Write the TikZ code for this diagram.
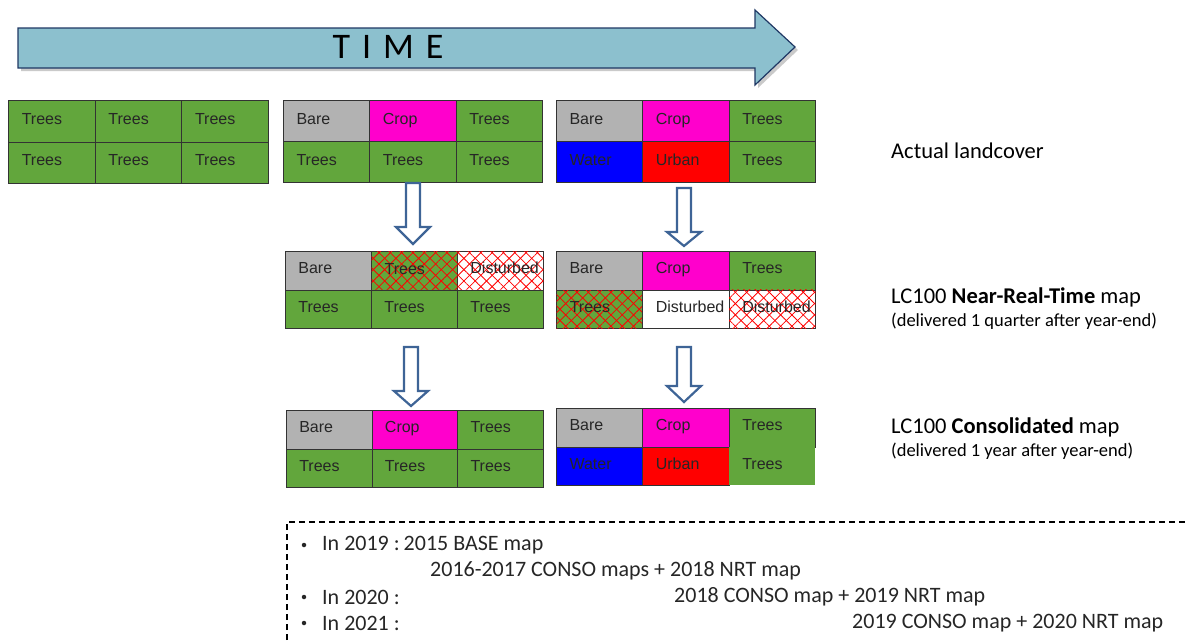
\documentclass[tikz,border=0pt]{standalone}
\usepackage{fontspec}
\setmainfont{Liberation Sans}
\newfontfamily\calfont{Carlito}
\usetikzlibrary{patterns.meta}
\definecolor{tgreen}{RGB}{98,166,60}
\definecolor{tgray}{RGB}{178,178,178}
\definecolor{tmag}{RGB}{255,0,204}
\definecolor{tblue}{RGB}{0,0,255}
\definecolor{tred}{RGB}{255,0,0}
\definecolor{arrfill}{RGB}{140,192,206}
\definecolor{arrline}{RGB}{31,56,100}
\definecolor{darrc}{RGB}{62,100,150}
\tikzset{
  cellbox/.style={draw=black!80, line width=0.8pt, anchor=north west, inner xsep=12pt, inner ysep=0pt,
    text width=60pt, text height=11.5pt, text depth=5pt, align=left, font=\fontsize{16}{18}\selectfont, text=black!85},
  hatchg/.style={fill=tgreen,
    postaction={pattern={Lines[angle=45,distance=8pt,line width=0.8pt]}, pattern color=red},
    postaction={pattern={Lines[angle=-45,distance=8pt,line width=0.8pt]}, pattern color=red}},
  hatchw/.style={fill=white,
    postaction={pattern={Lines[angle=45,distance=8pt,line width=0.8pt]}, pattern color=red},
    postaction={pattern={Lines[angle=-45,distance=8pt,line width=0.8pt]}, pattern color=red}},
  darrow/.style={draw=darrc, line width=2.2pt, fill=white, line join=miter},
  lbl/.style={anchor=west, inner sep=0pt, font=\calfont\fontsize{22.5}{26}\selectfont},
  sublbl/.style={anchor=west, inner sep=0pt, font=\calfont\fontsize{18.5}{21}\selectfont},
  btxt/.style={anchor=west, inner sep=0pt, font=\calfont\fontsize{22}{26}\selectfont, text=black!85},
  bul/.style={anchor=center, inner sep=0pt, fill=black!85, circle, minimum size=4.5pt},
}
\newcommand\blockdown[4]{\draw[darrow] (#1-7,#2) -- (#1+7,#2) -- (#1+7,#3) -- (#1+17,#3) -- (#1,#4) -- (#1-17,#3) -- (#1-7,#3) -- cycle;}
\begin{document}
\begin{tikzpicture}[x=1pt,y=-1pt]
\useasboundingbox (0,0) rectangle (1186,643);
\clip (0,0) rectangle (1186,643);
% time arrow
\fill[black!35, opacity=.6] (21,31) -- (758,31) -- (758,13) -- (798,50) -- (758,88) -- (758,71) -- (21,71) -- cycle;
\draw[fill=arrfill, draw=arrline, line width=1.2pt] (18,28) -- (755,28) -- (755,10) -- (795,47) -- (755,85) -- (755,68) -- (18,68) -- cycle;
\node (time) at (388,47) {\calfont\fontsize{36}{36}\selectfont T\hspace{12pt}I\hspace{12pt}M\hspace{12pt}E};
% grid 1
\begin{scope}[every node/.append style={minimum width=86.7pt, minimum height=41.5pt}]
\node[cellbox, fill=tgreen] (g11) at (8,100) {Trees};
\node[cellbox, fill=tgreen] (g12) at (94.7,100) {Trees};
\node[cellbox, fill=tgreen] (g13) at (181.3,100) {Trees};
\node[cellbox, fill=tgreen] (g21) at (8,141.5) {Trees};
\node[cellbox, fill=tgreen] (g22) at (94.7,141.5) {Trees};
\node[cellbox, fill=tgreen] (g23) at (181.3,141.5) {Trees};
\end{scope}
% actual middle
\begin{scope}[every node/.append style={minimum width=86.3pt, minimum height=41pt}]
\node[cellbox, fill=tgray] (a11) at (283,100) {Bare};
\node[cellbox, fill=tmag] (a12) at (369.3,100) {Crop};
\node[cellbox, fill=tgreen] (a13) at (455.7,100) {Trees};
\node[cellbox, fill=tgreen] (a21) at (283,141) {Trees};
\node[cellbox, fill=tgreen] (a22) at (369.3,141) {Trees};
\node[cellbox, fill=tgreen] (a23) at (455.7,141) {Trees};
% actual right
\node[cellbox, fill=tgray] (b11) at (556,100) {Bare};
\node[cellbox, fill=tmag] (b12) at (642.3,100) {Crop};
\node[cellbox, fill=tgreen] (b13) at (728.7,100) {Trees};
\node[cellbox, fill=tblue] (b21) at (556,141) {Water};
\node[cellbox, fill=tred] (b22) at (642.3,141) {Urban};
\node[cellbox, fill=tgreen] (b23) at (728.7,141) {Trees};
\end{scope}
% NRT
\begin{scope}[every node/.append style={minimum width=86pt, minimum height=38.5pt}]
\node[cellbox, fill=tgray] (n11) at (285,251) {Bare};
\node[cellbox, hatchg, line width=1.3pt] (n12) at (371,251) {Trees};
\node[cellbox, hatchw] (n13) at (457,251) {Disturbed};
\node[cellbox, fill=tgreen] (n21) at (285,289.5) {Trees};
\node[cellbox, fill=tgreen] (n22) at (371,289.5) {Trees};
\node[cellbox, fill=tgreen] (n23) at (457,289.5) {Trees};
\end{scope}
\begin{scope}[every node/.append style={minimum width=86.3pt, minimum height=38.5pt}]
\node[cellbox, fill=tgray] (m11) at (556,251) {Bare};
\node[cellbox, fill=tmag] (m12) at (642.3,251) {Crop};
\node[cellbox, fill=tgreen] (m13) at (728.7,251) {Trees};
\node[cellbox, hatchg, line width=1.3pt] (m21) at (556,289.5) {Trees};
\node[cellbox, fill=white] (m22) at (642.3,289.5) {Disturbed};
\node[cellbox, hatchw] (m23) at (728.7,289.5) {Disturbed};
\end{scope}
% consolidated
\begin{scope}[every node/.append style={minimum width=85.7pt, minimum height=38.5pt}]
\node[cellbox, fill=tgray] (c11) at (286,410) {Bare};
\node[cellbox, fill=tmag] (c12) at (371.7,410) {Crop};
\node[cellbox, fill=tgreen] (c13) at (457.3,410) {Trees};
\node[cellbox, fill=tgreen] (c21) at (286,448.5) {Trees};
\node[cellbox, fill=tgreen] (c22) at (371.7,448.5) {Trees};
\node[cellbox, fill=tgreen] (c23) at (457.3,448.5) {Trees};
\end{scope}
\begin{scope}[every node/.append style={minimum width=86.3pt, minimum height=38.5pt}]
\node[cellbox, fill=tgray] (d11) at (556,408) {Bare};
\node[cellbox, fill=tmag] (d12) at (642.3,408) {Crop};
\node[cellbox, fill=tgreen] (d13) at (728.7,408) {Trees};
\node[cellbox, fill=tblue] (d21) at (556,446.5) {Water};
\node[cellbox, fill=tred] (d22) at (642.3,446.5) {Urban};
\node[cellbox, fill=tgreen, draw=none] (d23) at (728.7,446.5) {Trees};
\end{scope}
% down arrows
\blockdown{413}{183}{227}{244}
\blockdown{684}{188}{232}{246}
\blockdown{411}{347}{391}{406}
\blockdown{684}{347}{386}{402}
% right labels
\node[lbl] (lab1) at (891,151) {Actual landcover};
\node[lbl] (lab2) at (891,297) {LC100 \textbf{Near-Real-Time} map};
\node[sublbl] (lab2s) at (891,321) {(delivered 1 quarter after year-end)};
\node[lbl] (lab3) at (891,427) {LC100 \textbf{Consolidated} map};
\node[sublbl] (lab3s) at (891,451) {(delivered 1 year after year-end)};
% dashed box
\draw[dash pattern=on 6pt off 4pt, line width=1.1pt] (287,660) -- (287,522) -- (1200,522);
\node[bul] (bu1) at (304,545) {};
\node[bul] (bu2) at (304,597) {};
\node[bul] (bu3) at (304,623) {};
\node[btxt] (t1) at (322,545) {In 2019 :\hspace{4pt}2015 BASE map};
\node[btxt] (t2) at (430,571) {2016-2017 CONSO maps + 2018 NRT map};
\node[btxt] (t3) at (322,597) {In 2020 :};
\node[btxt] (t4) at (674,597) {2018 CONSO map + 2019 NRT map};
\node[btxt] (t5) at (322,623) {In 2021 :};
\node[btxt] (t6) at (852,623) {2019 CONSO map + 2020 NRT map};
\end{tikzpicture}
\end{document}
